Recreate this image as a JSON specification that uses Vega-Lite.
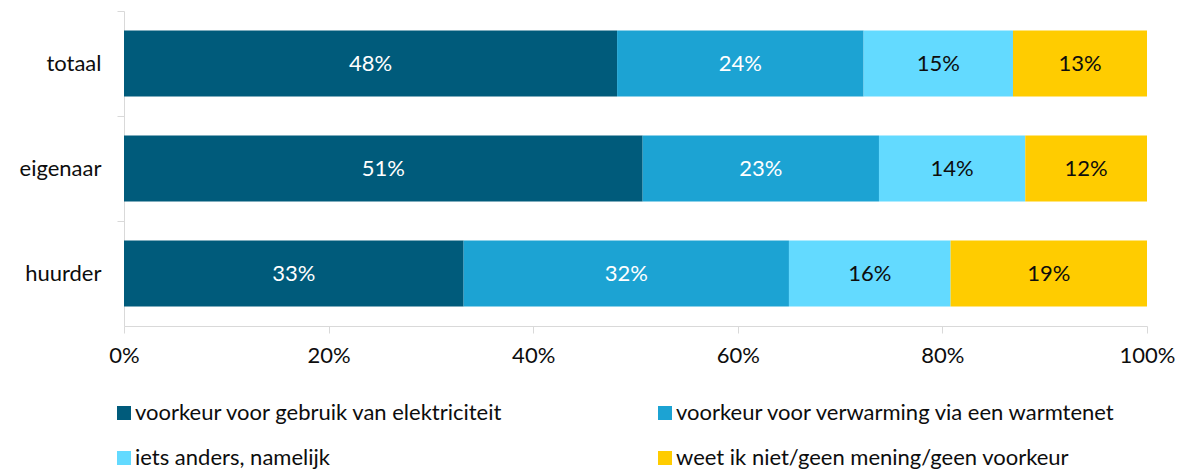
{
  "$schema": "https://vega.github.io/schema/vega-lite/v6.json",
  "width": 1023,
  "height": 315,
  "autosize": {"type": "none"},
  "padding": {"left": 124, "top": 11, "right": 45, "bottom": 143},
  "background": "white",
  "config": {
    "font": "Lato",
    "view": {"stroke": null}
  },
  "data": {
    "values": [
      {"groep": "totaal", "antwoord": "voorkeur voor gebruik van elektriciteit", "orde": 1, "aandeel": 0.482},
      {"groep": "totaal", "antwoord": "voorkeur voor verwarming via een warmtenet", "orde": 2, "aandeel": 0.241},
      {"groep": "totaal", "antwoord": "iets anders, namelijk", "orde": 3, "aandeel": 0.146},
      {"groep": "totaal", "antwoord": "weet ik niet/geen mening/geen voorkeur", "orde": 4, "aandeel": 0.131},
      {"groep": "eigenaar", "antwoord": "voorkeur voor gebruik van elektriciteit", "orde": 1, "aandeel": 0.507},
      {"groep": "eigenaar", "antwoord": "voorkeur voor verwarming via een warmtenet", "orde": 2, "aandeel": 0.231},
      {"groep": "eigenaar", "antwoord": "iets anders, namelijk", "orde": 3, "aandeel": 0.143},
      {"groep": "eigenaar", "antwoord": "weet ik niet/geen mening/geen voorkeur", "orde": 4, "aandeel": 0.119},
      {"groep": "huurder", "antwoord": "voorkeur voor gebruik van elektriciteit", "orde": 1, "aandeel": 0.332},
      {"groep": "huurder", "antwoord": "voorkeur voor verwarming via een warmtenet", "orde": 2, "aandeel": 0.318},
      {"groep": "huurder", "antwoord": "iets anders, namelijk", "orde": 3, "aandeel": 0.158},
      {"groep": "huurder", "antwoord": "weet ik niet/geen mening/geen voorkeur", "orde": 4, "aandeel": 0.192}
    ]
  },
  "transform": [
    {"stack": "aandeel", "groupby": ["groep"], "sort": [{"field": "orde", "order": "ascending"}], "as": ["x0", "x1"]},
    {"calculate": "(datum.x0 + datum.x1) / 2", "as": "xmid"}
  ],
  "encoding": {
    "y": {
      "field": "groep",
      "type": "nominal",
      "sort": ["totaal", "eigenaar", "huurder"],
      "scale": {"paddingInner": 0, "paddingOuter": 0},
      "axis": {
        "title": null,
        "bandPosition": 0,
        "domainColor": "#d9d9d9",
        "tickColor": "#d9d9d9",
        "tickSize": 7,
        "labelFontSize": 22,
        "labelColor": "#0d0d0d",
        "labelPadding": 16,
        "labelFont": "Lato"
      }
    }
  },
  "layer": [
    {
      "mark": {"type": "bar", "height": {"band": 0.627}},
      "encoding": {
        "x": {
          "field": "x0",
          "type": "quantitative",
          "scale": {"domain": [0, 1], "nice": false},
          "axis": {
            "title": null,
            "values": [0, 0.2, 0.4, 0.6, 0.8, 1],
            "format": ".0%",
            "grid": false,
            "domainColor": "#d9d9d9",
            "tickColor": "#d9d9d9",
            "tickSize": 7,
            "labelFontSize": 22,
            "labelColor": "#0d0d0d",
            "labelPadding": 12,
            "labelFlush": false
          }
        },
        "x2": {"field": "x1"},
        "color": {
          "field": "antwoord",
          "type": "nominal",
          "scale": {
            "domain": [
              "voorkeur voor gebruik van elektriciteit",
              "voorkeur voor verwarming via een warmtenet",
              "iets anders, namelijk",
              "weet ik niet/geen mening/geen voorkeur"
            ],
            "range": ["#005B7B", "#1CA3D3", "#63DAFF", "#FFCC00"]
          },
          "legend": {
            "title": null,
            "orient": "none",
            "legendX": -11,
            "legendY": 391,
            "direction": "horizontal",
            "columns": 2,
            "columnPadding": 150,
            "rowPadding": 23,
            "symbolType": "square",
            "symbolSize": 196,
            "symbolStrokeWidth": 0,
            "labelFontSize": 22,
            "labelColor": "#0d0d0d",
            "labelOffset": 0,
            "labelLimit": 700,
            "padding": 0
          }
        }
      }
    },
    {
      "mark": {"type": "text", "fontSize": 22, "baseline": "middle", "align": "center"},
      "encoding": {
        "x": {"field": "xmid", "type": "quantitative"},
        "text": {"field": "aandeel", "type": "quantitative", "format": ".0%"},
        "color": {
          "condition": {"test": "datum.orde <= 2", "value": "#ffffff"},
          "value": "#0d0d0d"
        }
      }
    }
  ]
}
